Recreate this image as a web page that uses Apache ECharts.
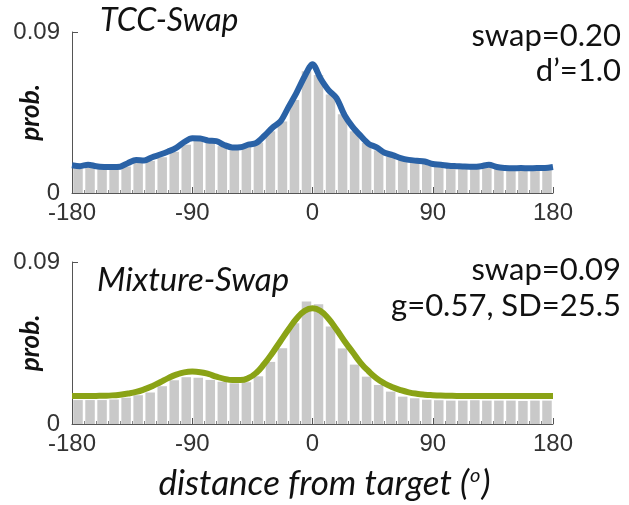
<!DOCTYPE html>
<html>
<head>
    <meta charset="utf-8" />
    <title>TCC vs Mixture swap</title>
    <script src="https://cdn.jsdelivr.net/npm/echarts@6/dist/echarts.min.js"></script>
</head>
<body style="margin:0;background:#fff">
    <div id="main" style="width:629px;height:505px;"></div>
    <script type="text/javascript">
        // bin centres of the histogram (9 deg bins)
        var binCenters = [-175.5, -166.5, -157.5, -148.5, -139.5, -130.5, -121.5, -112.5, -103.5, -94.5,
            -85.5, -76.5, -67.5, -58.5, -49.5, -40.5, -31.5, -22.5, -13.5, -4.5,
            4.5, 13.5, 22.5, 31.5, 40.5, 49.5, 58.5, 67.5, 76.5, 85.5,
            94.5, 103.5, 112.5, 121.5, 130.5, 139.5, 148.5, 157.5, 166.5, 175.5];
        var tccBars = [0.0145, 0.0148, 0.0140, 0.0138, 0.0148, 0.0168, 0.0180, 0.0200, 0.0230, 0.0270,
            0.0295, 0.0285, 0.0262, 0.0245, 0.0255, 0.0282, 0.0345, 0.0400, 0.0520, 0.0680,
            0.0660, 0.0550, 0.0440, 0.0345, 0.0280, 0.0238, 0.0205, 0.0188, 0.0172, 0.0162,
            0.0150, 0.0145, 0.0140, 0.0138, 0.0145, 0.0135, 0.0130, 0.0130, 0.0132, 0.0132];
        var mixBars = [0.0133, 0.0133, 0.0133, 0.0136, 0.0146, 0.0160, 0.0175, 0.0210, 0.0243, 0.0260,
            0.0257, 0.0245, 0.0235, 0.0226, 0.0232, 0.0265, 0.0345, 0.0421, 0.0560, 0.0680,
            0.0665, 0.0541, 0.0420, 0.0330, 0.0263, 0.0217, 0.0180, 0.0152, 0.0143, 0.0135,
            0.0132, 0.0130, 0.0130, 0.0132, 0.0130, 0.0130, 0.0130, 0.0128, 0.0130, 0.0130];

        // model curves sampled every 6 deg
        var curveX = [];
        for (var d = -180; d <= 180; d += 6) curveX.push(d);
        var tccCurve = [0.0155, 0.0150, 0.0158, 0.0150, 0.0146, 0.0145, 0.0147, 0.0168, 0.0185, 0.0182,
            0.0200, 0.0215, 0.0232, 0.0252, 0.0285, 0.0306, 0.0305, 0.0293, 0.0290, 0.0268,
            0.0255, 0.0256, 0.0270, 0.0280, 0.0320, 0.0365, 0.0400, 0.0480, 0.0560, 0.0650,
            0.0720, 0.0640, 0.0575, 0.0530, 0.0435, 0.0370, 0.0320, 0.0275, 0.0255, 0.0225,
            0.0212, 0.0195, 0.0185, 0.0180, 0.0176, 0.0162, 0.0158, 0.0152, 0.0150, 0.0148,
            0.0147, 0.0150, 0.0158, 0.0145, 0.0140, 0.0138, 0.0140, 0.0138, 0.0140, 0.0140, 0.0145];
        var mixCurve = [0.0155, 0.0155, 0.0155, 0.0156, 0.0157, 0.0159, 0.0163, 0.0169, 0.0178, 0.0192,
            0.0210, 0.0232, 0.0255, 0.0274, 0.0287, 0.0291, 0.0288, 0.0278, 0.0263, 0.0251,
            0.0244, 0.0244, 0.0255, 0.0285, 0.0335, 0.0395, 0.0460, 0.0525, 0.0585, 0.0628,
            0.0643, 0.0628, 0.0585, 0.0525, 0.0460, 0.0400, 0.0340, 0.0293, 0.0254, 0.0225,
            0.0204, 0.0188, 0.0176, 0.0168, 0.0163, 0.0160, 0.0158, 0.0157, 0.0156, 0.0156,
            0.0156, 0.0156, 0.0156, 0.0156, 0.0156, 0.0156, 0.0156, 0.0156, 0.0156, 0.0156, 0.0156];

        function pairs(xs, ys) {
            return xs.map(function (x, i) { return [x, ys[i]]; });
        }

        var axisColor = '#555';
        var tickFont = { color: '#333', fontSize: 24, fontFamily: 'Liberation Sans' };

        function xAxis(idx, withName) {
            var ax = {
                type: 'value', gridIndex: idx, min: -180, max: 180, interval: 90,
                axisLine: { onZero: false, lineStyle: { color: axisColor } },
                axisTick: { inside: true, length: 6, lineStyle: { color: axisColor } },
                minorTick: { show: true, splitNumber: 10, length: 3, lineStyle: { color: '#888' } },
                axisLabel: Object.assign({ margin: 8 }, tickFont),
                splitLine: { show: false }
            };
            if (withName) {
                ax.name = 'distance from target ({s|o})';
                ax.nameLocation = 'middle';
                ax.nameGap = 42;
                ax.nameMoveOverlap = false;
                ax.nameTextStyle = {
                    fontSize: 35, fontStyle: 'italic', fontFamily: 'Lato', color: '#111',
                    padding: [0, 0, 0, 24],
                    rich: { s: { fontSize: 20, fontStyle: 'italic', fontFamily: 'Lato', verticalAlign: 'top', padding: [0, 1, 16, 1], color: '#111' } }
                };
            }
            return ax;
        }

        function yAxis(idx) {
            return {
                type: 'value', gridIndex: idx, min: 0, max: 0.09, interval: 0.09,
                name: 'prob.', nameLocation: 'middle', nameGap: 28, nameRotate: 90, nameMoveOverlap: false,
                nameTextStyle: { fontSize: 26, fontStyle: 'italic', fontWeight: 'bold', fontFamily: 'Lato', color: '#111' },
                axisLine: { show: true, onZero: false, lineStyle: { color: axisColor } },
                axisTick: { show: true, inside: true, length: 6, lineStyle: { color: axisColor } },
                axisLabel: Object.assign({ margin: 12, formatter: function (v) { return v === 0 ? '0' : '0.09'; } }, tickFont),
                splitLine: { show: false }
            };
        }

        var chart = echarts.init(document.getElementById('main'));
        var option = {
            animation: false,
            grid: [
                { left: 72, right: 76, top: 32, height: 161, outerBoundsMode: 'none' },
                { left: 72, right: 76, top: 262, height: 162, outerBoundsMode: 'none' }
            ],
            xAxis: [xAxis(0, false), xAxis(1, true)],
            yAxis: [yAxis(0), yAxis(1)],
            graphic: [
                { type: 'text', left: 100, top: 5, style: { text: 'TCC-Swap', font: 'italic 32px Lato', fill: '#111' } },
                { type: 'text', right: 8, top: 20, style: { text: 'swap=0.20', font: '31px Lato', fill: '#111', textAlign: 'right' } },
                { type: 'text', right: 8, top: 55, style: { text: 'd\u2019=1.0', font: '31px Lato', fill: '#111', textAlign: 'right' } },
                { type: 'text', left: 97, top: 264, style: { text: 'Mixture-Swap', font: 'italic 33px Lato', fill: '#111' } },
                { type: 'text', right: 8, top: 254, style: { text: 'swap=0.09', font: '31px Lato', fill: '#111', textAlign: 'right' } },
                { type: 'text', right: 8, top: 290, style: { text: 'g=0.57, SD=25.5', font: '31px Lato', fill: '#111', textAlign: 'right' } }
            ],
            series: [
                {
                    type: 'bar', xAxisIndex: 0, yAxisIndex: 0, barWidth: 9.5,
                    itemStyle: { color: '#c9c9c9' }, data: pairs(binCenters, tccBars)
                },
                {
                    type: 'line', xAxisIndex: 0, yAxisIndex: 0, showSymbol: false, smooth: 0.3,
                    lineStyle: { color: '#2a62a6', width: 6 }, data: pairs(curveX, tccCurve)
                },
                {
                    type: 'bar', xAxisIndex: 1, yAxisIndex: 1, barWidth: 9.5,
                    itemStyle: { color: '#c9c9c9' }, data: pairs(binCenters, mixBars)
                },
                {
                    type: 'line', xAxisIndex: 1, yAxisIndex: 1, showSymbol: false, smooth: true,
                    lineStyle: { color: '#8aa316', width: 6 }, data: pairs(curveX, mixCurve)
                }
            ]
        };
        chart.setOption(option);
    </script>
</body>
</html>
